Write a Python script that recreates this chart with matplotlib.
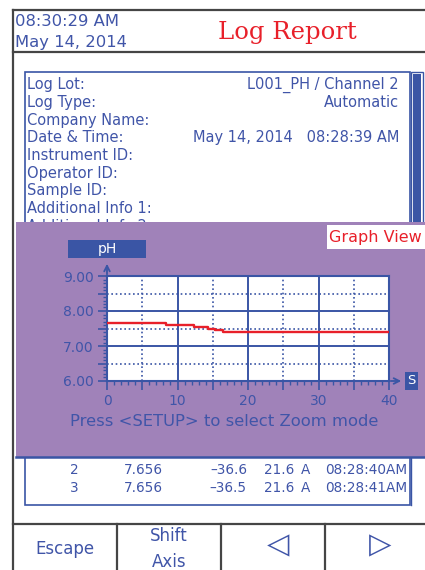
import matplotlib
matplotlib.use('Agg')
import matplotlib.pyplot as plt
from matplotlib.patches import Rectangle
from matplotlib.ticker import MultipleLocator, FuncFormatter

# 数据
t_sec = [0, 8.3, 12.3, 14.3, 15.3, 16.4, 40]
ph_val = [7.65, 7.60, 7.55, 7.50, 7.46, 7.40, 7.40]

grid_solid_x = [10, 20, 30]
grid_dot_x = [5, 15, 25, 35]
grid_solid_y = [7, 8]
grid_dot_y = [6.5, 7.5, 8.5]

info_labels = ['Log Lot:', 'Log Type:', 'Company Name:', 'Date & Time:',
               'Instrument ID:', 'Operator ID:', 'Sample ID:',
               'Additional Info 1:', 'Additional Info 2:']
info_values = ['L001_PH / Channel 2', 'Automatic', '',
               'May 14, 2014   08:28:39 AM', '', '', '', '', '']

row_no = ['2', '3']
row_ph = ['7.656', '7.656']
row_mv = ['\u201336.6', '\u201336.5']
row_temp = ['21.6', '21.6']
row_flag = ['A', 'A']
row_time = ['08:28:40AM', '08:28:41AM']

buttons = ['Escape', 'Shift\nAxis', '\u25C1', '\u25B7']

# 样式
BLUE = '#3a55a5'
TXT = '#4055a8'
PURPLE = '#a082b9'
RED = '#e8202a'
FRAME = '#454545'
FONT = 'DejaVu Sans'

fig = plt.figure(figsize=(4.25, 5.7), dpi=100)
bg = fig.add_axes([0, 0, 1, 1])
bg.set_xlim(0, 425)
bg.set_ylim(570, 0)
bg.axis('off')

# 外框
bg.plot([13, 13], [10, 570], color=FRAME, lw=1.6)
bg.plot([13, 425], [10, 10], color=FRAME, lw=1.6)
bg.plot([13, 425], [52, 52], color=FRAME, lw=1.6)

# 标题
bg.text(15, 21, '08:30:29 AM', color=TXT, fontsize=11.8, family=FONT, va='center')
bg.text(15, 42, 'May 14, 2014', color=TXT, fontsize=11.8, family=FONT, va='center')
bg.text(287, 32, 'Log Report', color=RED, fontsize=17.5, family='DejaVu Serif',
        ha='center', va='center')

# 信息框
bg.add_patch(Rectangle((25, 72), 385, 200, fill=False, ec=BLUE, lw=1.2, zorder=2))
bg.add_patch(Rectangle((411, 72), 12, 200, fill=False, ec=BLUE, lw=1.0, zorder=2))
bg.add_patch(Rectangle((413, 74), 8, 196, fc=BLUE, ec='none', zorder=2))
for i, (lab, val) in enumerate(zip(info_labels, info_values)):
    y = 89 + 17.75 * i
    bg.text(27, y, lab, color=TXT, fontsize=10.5, family=FONT, va='baseline', zorder=2)
    if val:
        bg.text(399, y, val, color=TXT, fontsize=10.5, family=FONT, va='baseline',
                ha='right', zorder=2)

# 紫色面板
bg.add_patch(Rectangle((16, 222), 409, 235, fc=PURPLE, ec='none', zorder=5))
bg.plot([16, 425], [457, 457], color=BLUE, lw=1.8, zorder=6)
bg.add_patch(Rectangle((327, 225), 98, 24, fc='white', ec='none', zorder=6))
bg.text(329, 237.5, 'Graph View', color=RED, fontsize=11.5, family=FONT,
        va='center', zorder=7)
bg.add_patch(Rectangle((68, 240), 78, 18, fc=BLUE, ec='none', zorder=6))
bg.text(107, 249, 'pH', color='white', fontsize=10, family=FONT,
        ha='center', va='center', zorder=7)

# 坐标轴箭头
bg.annotate('', xy=(107, 261), xytext=(107, 277), zorder=7,
            arrowprops=dict(arrowstyle='->', color=BLUE, lw=1.3))
bg.annotate('', xy=(404, 381), xytext=(388, 381), zorder=7,
            arrowprops=dict(arrowstyle='->', color=BLUE, lw=1.3))
bg.add_patch(Rectangle((405, 372), 13, 18, fc=BLUE, ec='none', zorder=6))
bg.text(411.5, 381, 'S', color='white', fontsize=9.5, family=FONT,
        ha='center', va='center', zorder=7)

bg.text(224, 422, 'Press <SETUP> to select Zoom mode', color=TXT, fontsize=11.8,
        family=FONT, ha='center', va='center', zorder=7)

# 表格
bg.add_patch(Rectangle((25, 440), 385, 65, fill=False, ec=BLUE, lw=1.2, zorder=2))
bg.plot([411, 411], [457, 505], color=BLUE, lw=1.0, zorder=2)
for i in range(len(row_no)):
    y = 470 + 18.5 * i
    kw = dict(color=TXT, fontsize=9.8, family=FONT, va='center', zorder=3)
    bg.text(74, y, row_no[i], ha='center', **kw)
    bg.text(124, y, row_ph[i], ha='left', **kw)
    bg.text(247, y, row_mv[i], ha='right', **kw)
    bg.text(294, y, row_temp[i], ha='right', **kw)
    bg.text(306, y, row_flag[i], ha='center', **kw)
    bg.text(407, y, row_time[i], ha='right', **kw)

# 按钮
bg.plot([13, 425], [524, 524], color=FRAME, lw=1.6)
for xd in [117, 221, 325]:
    bg.plot([xd, xd], [524, 570], color=FRAME, lw=1.6)
btn_x = [65, 169, 278, 380]
for bx, lab in zip(btn_x, buttons):
    if lab in ('\u25C1', '\u25B7'):
        bg.text(bx, 545, lab, color=TXT, fontsize=21, family=FONT,
                ha='center', va='center')
    else:
        bg.text(bx, 549, lab, color=TXT, fontsize=12, family=FONT,
                ha='center', va='center', linespacing=1.6)

# 图表
ax = fig.add_axes([107 / 425, 1 - 381 / 570, 282 / 425, 105 / 570])
ax.set_facecolor('white')
ax.set_zorder(10)
ax.step(t_sec, ph_val, where='post', color=RED, lw=1.7, zorder=4)
for gx in grid_solid_x:
    ax.axvline(gx, color=BLUE, lw=1.4, zorder=2)
for gy in grid_solid_y:
    ax.axhline(gy, color=BLUE, lw=1.4, zorder=2)
for gx in grid_dot_x:
    ax.axvline(gx, color=BLUE, lw=1.2, ls=(0, (1, 1.6)), zorder=1)
for gy in grid_dot_y:
    ax.axhline(gy, color=BLUE, lw=1.2, ls=(0, (1, 1.6)), zorder=1)
ax.set_xlim(0, 40)
ax.set_ylim(6, 9)
for s in ax.spines.values():
    s.set_color(BLUE)
    s.set_linewidth(1.5)

ax.xaxis.set_major_locator(MultipleLocator(5))
ax.xaxis.set_minor_locator(MultipleLocator(1))
ax.yaxis.set_major_locator(MultipleLocator(0.5))
ax.yaxis.set_minor_locator(MultipleLocator(0.1))
ax.xaxis.set_major_formatter(FuncFormatter(lambda v, p: '%d' % v if v % 10 == 0 else ''))
ax.yaxis.set_major_formatter(FuncFormatter(lambda v, p: '%.2f' % v if v % 1 == 0 else ''))
ax.tick_params(which='major', length=6.5, width=1.2, color=BLUE,
               labelcolor=TXT, labelsize=10, pad=3)
ax.tick_params(which='minor', length=3.2, width=1.0, color=BLUE)
for lab in ax.get_xticklabels() + ax.get_yticklabels():
    lab.set_family(FONT)

fig.savefig('out.png', dpi=100)
